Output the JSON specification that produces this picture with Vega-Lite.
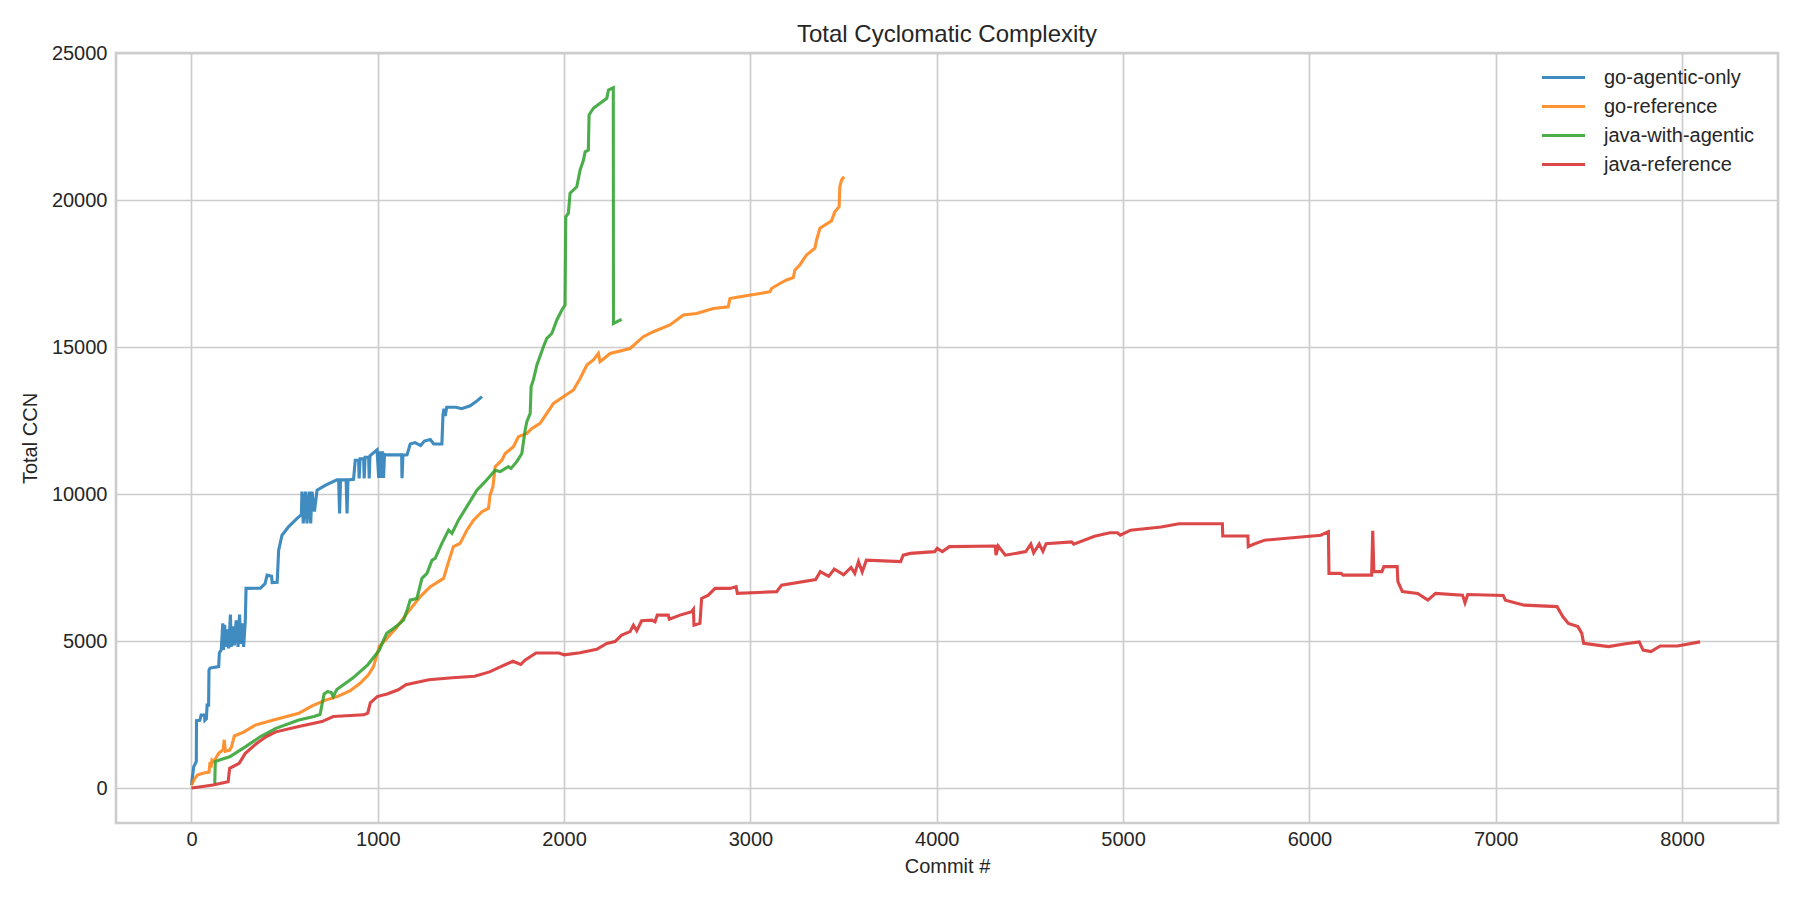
{
  "$schema": "https://vega.github.io/schema/vega-lite/v6.json",
  "width": 1662,
  "height": 770,
  "autosize": {"type": "none"},
  "padding": {"left": 116, "top": 53, "right": 22, "bottom": 77},
  "background": "white",
  "title": {
    "text": "Total Cyclomatic Complexity",
    "fontSize": 24,
    "fontWeight": "normal",
    "font": "Liberation Sans",
    "color": "#262626",
    "anchor": "middle",
    "frame": "group",
    "offset": -4
  },
  "data": {
    "values": [
      {"s": "go-agentic-only", "x": 0, "y": 100}, {"s": "go-agentic-only", "x": 12, "y": 720}, {"s": "go-agentic-only", "x": 26, "y": 900}, {"s": "go-agentic-only", "x": 27, "y": 2290},
      {"s": "go-agentic-only", "x": 45, "y": 2300}, {"s": "go-agentic-only", "x": 52, "y": 2480}, {"s": "go-agentic-only", "x": 70, "y": 2480}, {"s": "go-agentic-only", "x": 72, "y": 2300},
      {"s": "go-agentic-only", "x": 80, "y": 2350}, {"s": "go-agentic-only", "x": 84, "y": 2820}, {"s": "go-agentic-only", "x": 92, "y": 2820}, {"s": "go-agentic-only", "x": 94, "y": 4010},
      {"s": "go-agentic-only", "x": 100, "y": 4080}, {"s": "go-agentic-only", "x": 146, "y": 4130}, {"s": "go-agentic-only", "x": 150, "y": 4600}, {"s": "go-agentic-only", "x": 160, "y": 4700},
      {"s": "go-agentic-only", "x": 168, "y": 5600}, {"s": "go-agentic-only", "x": 172, "y": 4700}, {"s": "go-agentic-only", "x": 178, "y": 5550}, {"s": "go-agentic-only", "x": 185, "y": 4800},
      {"s": "go-agentic-only", "x": 195, "y": 5400}, {"s": "go-agentic-only", "x": 200, "y": 4750}, {"s": "go-agentic-only", "x": 209, "y": 5900}, {"s": "go-agentic-only", "x": 214, "y": 4800},
      {"s": "go-agentic-only", "x": 222, "y": 5500}, {"s": "go-agentic-only", "x": 230, "y": 4850}, {"s": "go-agentic-only", "x": 240, "y": 5700}, {"s": "go-agentic-only", "x": 250, "y": 4800},
      {"s": "go-agentic-only", "x": 258, "y": 5900}, {"s": "go-agentic-only", "x": 265, "y": 4900}, {"s": "go-agentic-only", "x": 272, "y": 5600}, {"s": "go-agentic-only", "x": 280, "y": 4800},
      {"s": "go-agentic-only", "x": 289, "y": 5700}, {"s": "go-agentic-only", "x": 293, "y": 6790}, {"s": "go-agentic-only", "x": 370, "y": 6800}, {"s": "go-agentic-only", "x": 395, "y": 6950},
      {"s": "go-agentic-only", "x": 406, "y": 7240}, {"s": "go-agentic-only", "x": 430, "y": 7200}, {"s": "go-agentic-only", "x": 433, "y": 6990}, {"s": "go-agentic-only", "x": 460, "y": 7000},
      {"s": "go-agentic-only", "x": 468, "y": 8090}, {"s": "go-agentic-only", "x": 486, "y": 8600}, {"s": "go-agentic-only", "x": 522, "y": 8890}, {"s": "go-agentic-only", "x": 567, "y": 9170},
      {"s": "go-agentic-only", "x": 590, "y": 9300}, {"s": "go-agentic-only", "x": 593, "y": 10080}, {"s": "go-agentic-only", "x": 600, "y": 9000}, {"s": "go-agentic-only", "x": 612, "y": 10080},
      {"s": "go-agentic-only", "x": 620, "y": 9000}, {"s": "go-agentic-only", "x": 632, "y": 10080}, {"s": "go-agentic-only", "x": 640, "y": 9000}, {"s": "go-agentic-only", "x": 647, "y": 10080},
      {"s": "go-agentic-only", "x": 660, "y": 9400}, {"s": "go-agentic-only", "x": 674, "y": 10130}, {"s": "go-agentic-only", "x": 720, "y": 10300}, {"s": "go-agentic-only", "x": 781, "y": 10480},
      {"s": "go-agentic-only", "x": 790, "y": 10480}, {"s": "go-agentic-only", "x": 795, "y": 9340}, {"s": "go-agentic-only", "x": 800, "y": 10480}, {"s": "go-agentic-only", "x": 830, "y": 10480},
      {"s": "go-agentic-only", "x": 835, "y": 9340}, {"s": "go-agentic-only", "x": 840, "y": 10480}, {"s": "go-agentic-only", "x": 870, "y": 10500}, {"s": "go-agentic-only", "x": 879, "y": 11150},
      {"s": "go-agentic-only", "x": 897, "y": 11150}, {"s": "go-agentic-only", "x": 900, "y": 10530}, {"s": "go-agentic-only", "x": 905, "y": 11200}, {"s": "go-agentic-only", "x": 924, "y": 11200},
      {"s": "go-agentic-only", "x": 927, "y": 10530}, {"s": "go-agentic-only", "x": 932, "y": 11250}, {"s": "go-agentic-only", "x": 951, "y": 11250}, {"s": "go-agentic-only", "x": 954, "y": 10530},
      {"s": "go-agentic-only", "x": 958, "y": 11300}, {"s": "go-agentic-only", "x": 996, "y": 11500}, {"s": "go-agentic-only", "x": 1005, "y": 10550}, {"s": "go-agentic-only", "x": 1010, "y": 11450},
      {"s": "go-agentic-only", "x": 1020, "y": 10550}, {"s": "go-agentic-only", "x": 1025, "y": 11450}, {"s": "go-agentic-only", "x": 1031, "y": 10550}, {"s": "go-agentic-only", "x": 1036, "y": 11350},
      {"s": "go-agentic-only", "x": 1050, "y": 11330}, {"s": "go-agentic-only", "x": 1128, "y": 11330}, {"s": "go-agentic-only", "x": 1130, "y": 10540}, {"s": "go-agentic-only", "x": 1135, "y": 11320},
      {"s": "go-agentic-only", "x": 1157, "y": 11330}, {"s": "go-agentic-only", "x": 1174, "y": 11700}, {"s": "go-agentic-only", "x": 1200, "y": 11750}, {"s": "go-agentic-only", "x": 1230, "y": 11650},
      {"s": "go-agentic-only", "x": 1250, "y": 11800}, {"s": "go-agentic-only", "x": 1282, "y": 11850}, {"s": "go-agentic-only", "x": 1300, "y": 11700}, {"s": "go-agentic-only", "x": 1344, "y": 11700},
      {"s": "go-agentic-only", "x": 1350, "y": 12700}, {"s": "go-agentic-only", "x": 1355, "y": 12900}, {"s": "go-agentic-only", "x": 1362, "y": 12650}, {"s": "go-agentic-only", "x": 1370, "y": 12950},
      {"s": "go-agentic-only", "x": 1420, "y": 12950}, {"s": "go-agentic-only", "x": 1450, "y": 12900}, {"s": "go-agentic-only", "x": 1496, "y": 13000}, {"s": "go-agentic-only", "x": 1530, "y": 13150},
      {"s": "go-agentic-only", "x": 1559, "y": 13310},

      {"s": "go-reference", "x": 0, "y": 100}, {"s": "go-reference", "x": 15, "y": 300}, {"s": "go-reference", "x": 32, "y": 440}, {"s": "go-reference", "x": 60, "y": 500},
      {"s": "go-reference", "x": 94, "y": 540}, {"s": "go-reference", "x": 100, "y": 890}, {"s": "go-reference", "x": 105, "y": 700}, {"s": "go-reference", "x": 110, "y": 950},
      {"s": "go-reference", "x": 120, "y": 900}, {"s": "go-reference", "x": 146, "y": 1180}, {"s": "go-reference", "x": 170, "y": 1300}, {"s": "go-reference", "x": 176, "y": 1640},
      {"s": "go-reference", "x": 182, "y": 1250}, {"s": "go-reference", "x": 205, "y": 1290}, {"s": "go-reference", "x": 215, "y": 1400}, {"s": "go-reference", "x": 230, "y": 1770},
      {"s": "go-reference", "x": 280, "y": 1900}, {"s": "go-reference", "x": 342, "y": 2140}, {"s": "go-reference", "x": 450, "y": 2330}, {"s": "go-reference", "x": 576, "y": 2540},
      {"s": "go-reference", "x": 650, "y": 2800}, {"s": "go-reference", "x": 720, "y": 2990}, {"s": "go-reference", "x": 782, "y": 3110}, {"s": "go-reference", "x": 850, "y": 3300},
      {"s": "go-reference", "x": 905, "y": 3560}, {"s": "go-reference", "x": 950, "y": 3850}, {"s": "go-reference", "x": 977, "y": 4130}, {"s": "go-reference", "x": 1008, "y": 4810},
      {"s": "go-reference", "x": 1040, "y": 5030}, {"s": "go-reference", "x": 1100, "y": 5450}, {"s": "go-reference", "x": 1157, "y": 5940}, {"s": "go-reference", "x": 1228, "y": 6510},
      {"s": "go-reference", "x": 1282, "y": 6850}, {"s": "go-reference", "x": 1353, "y": 7130}, {"s": "go-reference", "x": 1380, "y": 7700}, {"s": "go-reference", "x": 1406, "y": 8210},
      {"s": "go-reference", "x": 1442, "y": 8320}, {"s": "go-reference", "x": 1478, "y": 8770}, {"s": "go-reference", "x": 1514, "y": 9110}, {"s": "go-reference", "x": 1559, "y": 9400},
      {"s": "go-reference", "x": 1594, "y": 9510}, {"s": "go-reference", "x": 1603, "y": 9970}, {"s": "go-reference", "x": 1618, "y": 10250}, {"s": "go-reference", "x": 1630, "y": 10930},
      {"s": "go-reference", "x": 1666, "y": 11150}, {"s": "go-reference", "x": 1684, "y": 11380}, {"s": "go-reference", "x": 1728, "y": 11610}, {"s": "go-reference", "x": 1755, "y": 11950},
      {"s": "go-reference", "x": 1800, "y": 12060}, {"s": "go-reference", "x": 1827, "y": 12230}, {"s": "go-reference", "x": 1871, "y": 12400}, {"s": "go-reference", "x": 1925, "y": 12910},
      {"s": "go-reference", "x": 1943, "y": 13080}, {"s": "go-reference", "x": 1996, "y": 13310}, {"s": "go-reference", "x": 2050, "y": 13540}, {"s": "go-reference", "x": 2086, "y": 13930},
      {"s": "go-reference", "x": 2122, "y": 14390}, {"s": "go-reference", "x": 2157, "y": 14560}, {"s": "go-reference", "x": 2184, "y": 14780}, {"s": "go-reference", "x": 2193, "y": 14500},
      {"s": "go-reference", "x": 2247, "y": 14780}, {"s": "go-reference", "x": 2354, "y": 14950}, {"s": "go-reference", "x": 2425, "y": 15350}, {"s": "go-reference", "x": 2479, "y": 15520},
      {"s": "go-reference", "x": 2568, "y": 15750}, {"s": "go-reference", "x": 2640, "y": 16090}, {"s": "go-reference", "x": 2711, "y": 16140}, {"s": "go-reference", "x": 2801, "y": 16310},
      {"s": "go-reference", "x": 2881, "y": 16370}, {"s": "go-reference", "x": 2890, "y": 16650}, {"s": "go-reference", "x": 2944, "y": 16710}, {"s": "go-reference", "x": 3051, "y": 16820},
      {"s": "go-reference", "x": 3105, "y": 16880}, {"s": "go-reference", "x": 3113, "y": 16990}, {"s": "go-reference", "x": 3158, "y": 17160}, {"s": "go-reference", "x": 3194, "y": 17280},
      {"s": "go-reference", "x": 3230, "y": 17360}, {"s": "go-reference", "x": 3239, "y": 17620}, {"s": "go-reference", "x": 3265, "y": 17790}, {"s": "go-reference", "x": 3301, "y": 18130},
      {"s": "go-reference", "x": 3346, "y": 18360}, {"s": "go-reference", "x": 3355, "y": 18640}, {"s": "go-reference", "x": 3373, "y": 19040}, {"s": "go-reference", "x": 3400, "y": 19150},
      {"s": "go-reference", "x": 3435, "y": 19290}, {"s": "go-reference", "x": 3453, "y": 19600}, {"s": "go-reference", "x": 3476, "y": 19770}, {"s": "go-reference", "x": 3480, "y": 20450},
      {"s": "go-reference", "x": 3489, "y": 20680}, {"s": "go-reference", "x": 3503, "y": 20790},

      {"s": "java-with-agentic", "x": 125, "y": 150}, {"s": "java-with-agentic", "x": 128, "y": 900}, {"s": "java-with-agentic", "x": 150, "y": 950}, {"s": "java-with-agentic", "x": 205, "y": 1060},
      {"s": "java-with-agentic", "x": 289, "y": 1400}, {"s": "java-with-agentic", "x": 371, "y": 1750}, {"s": "java-with-agentic", "x": 453, "y": 2030}, {"s": "java-with-agentic", "x": 576, "y": 2310},
      {"s": "java-with-agentic", "x": 658, "y": 2430}, {"s": "java-with-agentic", "x": 690, "y": 2500}, {"s": "java-with-agentic", "x": 712, "y": 3200}, {"s": "java-with-agentic", "x": 730, "y": 3280},
      {"s": "java-with-agentic", "x": 750, "y": 3250}, {"s": "java-with-agentic", "x": 761, "y": 3110}, {"s": "java-with-agentic", "x": 780, "y": 3350}, {"s": "java-with-agentic", "x": 864, "y": 3730},
      {"s": "java-with-agentic", "x": 946, "y": 4190}, {"s": "java-with-agentic", "x": 1008, "y": 4690}, {"s": "java-with-agentic", "x": 1031, "y": 5030}, {"s": "java-with-agentic", "x": 1048, "y": 5260},
      {"s": "java-with-agentic", "x": 1100, "y": 5500}, {"s": "java-with-agentic", "x": 1138, "y": 5710}, {"s": "java-with-agentic", "x": 1160, "y": 6100}, {"s": "java-with-agentic", "x": 1174, "y": 6390},
      {"s": "java-with-agentic", "x": 1210, "y": 6450}, {"s": "java-with-agentic", "x": 1237, "y": 7130}, {"s": "java-with-agentic", "x": 1264, "y": 7300}, {"s": "java-with-agentic", "x": 1291, "y": 7750},
      {"s": "java-with-agentic", "x": 1308, "y": 7810}, {"s": "java-with-agentic", "x": 1344, "y": 8320}, {"s": "java-with-agentic", "x": 1380, "y": 8770}, {"s": "java-with-agentic", "x": 1398, "y": 8660},
      {"s": "java-with-agentic", "x": 1433, "y": 9110}, {"s": "java-with-agentic", "x": 1478, "y": 9570}, {"s": "java-with-agentic", "x": 1532, "y": 10130}, {"s": "java-with-agentic", "x": 1576, "y": 10420},
      {"s": "java-with-agentic", "x": 1630, "y": 10810}, {"s": "java-with-agentic", "x": 1657, "y": 10760}, {"s": "java-with-agentic", "x": 1701, "y": 10930}, {"s": "java-with-agentic", "x": 1715, "y": 10870},
      {"s": "java-with-agentic", "x": 1746, "y": 11100}, {"s": "java-with-agentic", "x": 1773, "y": 11380}, {"s": "java-with-agentic", "x": 1791, "y": 12180}, {"s": "java-with-agentic", "x": 1800, "y": 12460},
      {"s": "java-with-agentic", "x": 1818, "y": 12740}, {"s": "java-with-agentic", "x": 1823, "y": 13650}, {"s": "java-with-agentic", "x": 1835, "y": 13880}, {"s": "java-with-agentic", "x": 1854, "y": 14390},
      {"s": "java-with-agentic", "x": 1889, "y": 15010}, {"s": "java-with-agentic", "x": 1907, "y": 15290}, {"s": "java-with-agentic", "x": 1934, "y": 15460}, {"s": "java-with-agentic", "x": 1961, "y": 15920},
      {"s": "java-with-agentic", "x": 1988, "y": 16260}, {"s": "java-with-agentic", "x": 2005, "y": 16430}, {"s": "java-with-agentic", "x": 2009, "y": 19430}, {"s": "java-with-agentic", "x": 2023, "y": 19550},
      {"s": "java-with-agentic", "x": 2032, "y": 20230}, {"s": "java-with-agentic", "x": 2068, "y": 20450}, {"s": "java-with-agentic", "x": 2086, "y": 21020}, {"s": "java-with-agentic", "x": 2104, "y": 21360},
      {"s": "java-with-agentic", "x": 2113, "y": 21640}, {"s": "java-with-agentic", "x": 2130, "y": 21700}, {"s": "java-with-agentic", "x": 2134, "y": 22890}, {"s": "java-with-agentic", "x": 2157, "y": 23120},
      {"s": "java-with-agentic", "x": 2229, "y": 23460}, {"s": "java-with-agentic", "x": 2238, "y": 23740}, {"s": "java-with-agentic", "x": 2264, "y": 23820}, {"s": "java-with-agentic", "x": 2265, "y": 15800},
      {"s": "java-with-agentic", "x": 2309, "y": 15940},

      {"s": "java-reference", "x": 0, "y": 0}, {"s": "java-reference", "x": 60, "y": 50}, {"s": "java-reference", "x": 115, "y": 100}, {"s": "java-reference", "x": 197, "y": 210},
      {"s": "java-reference", "x": 200, "y": 400}, {"s": "java-reference", "x": 205, "y": 670}, {"s": "java-reference", "x": 256, "y": 840}, {"s": "java-reference", "x": 289, "y": 1180},
      {"s": "java-reference", "x": 351, "y": 1520}, {"s": "java-reference", "x": 402, "y": 1750}, {"s": "java-reference", "x": 453, "y": 1910}, {"s": "java-reference", "x": 576, "y": 2090},
      {"s": "java-reference", "x": 700, "y": 2260}, {"s": "java-reference", "x": 761, "y": 2430}, {"s": "java-reference", "x": 925, "y": 2490}, {"s": "java-reference", "x": 946, "y": 2550},
      {"s": "java-reference", "x": 960, "y": 2900}, {"s": "java-reference", "x": 997, "y": 3110}, {"s": "java-reference", "x": 1050, "y": 3200}, {"s": "java-reference", "x": 1110, "y": 3340},
      {"s": "java-reference", "x": 1151, "y": 3510}, {"s": "java-reference", "x": 1274, "y": 3680}, {"s": "java-reference", "x": 1400, "y": 3750}, {"s": "java-reference", "x": 1520, "y": 3800},
      {"s": "java-reference", "x": 1600, "y": 3950}, {"s": "java-reference", "x": 1643, "y": 4080}, {"s": "java-reference", "x": 1725, "y": 4310}, {"s": "java-reference", "x": 1767, "y": 4200},
      {"s": "java-reference", "x": 1790, "y": 4350}, {"s": "java-reference", "x": 1849, "y": 4590}, {"s": "java-reference", "x": 1972, "y": 4590}, {"s": "java-reference", "x": 2000, "y": 4530},
      {"s": "java-reference", "x": 2086, "y": 4600}, {"s": "java-reference", "x": 2175, "y": 4720}, {"s": "java-reference", "x": 2229, "y": 4920}, {"s": "java-reference", "x": 2273, "y": 4980},
      {"s": "java-reference", "x": 2309, "y": 5200}, {"s": "java-reference", "x": 2354, "y": 5320}, {"s": "java-reference", "x": 2372, "y": 5540}, {"s": "java-reference", "x": 2390, "y": 5350},
      {"s": "java-reference", "x": 2416, "y": 5690}, {"s": "java-reference", "x": 2470, "y": 5710}, {"s": "java-reference", "x": 2488, "y": 5650}, {"s": "java-reference", "x": 2500, "y": 5880},
      {"s": "java-reference", "x": 2559, "y": 5880}, {"s": "java-reference", "x": 2565, "y": 5740}, {"s": "java-reference", "x": 2622, "y": 5880}, {"s": "java-reference", "x": 2685, "y": 6000},
      {"s": "java-reference", "x": 2694, "y": 6080}, {"s": "java-reference", "x": 2697, "y": 5540}, {"s": "java-reference", "x": 2729, "y": 5600}, {"s": "java-reference", "x": 2738, "y": 6450},
      {"s": "java-reference", "x": 2774, "y": 6560}, {"s": "java-reference", "x": 2810, "y": 6790}, {"s": "java-reference", "x": 2890, "y": 6790}, {"s": "java-reference", "x": 2923, "y": 6850},
      {"s": "java-reference", "x": 2930, "y": 6620}, {"s": "java-reference", "x": 3141, "y": 6680}, {"s": "java-reference", "x": 3167, "y": 6900}, {"s": "java-reference", "x": 3350, "y": 7090},
      {"s": "java-reference", "x": 3375, "y": 7360}, {"s": "java-reference", "x": 3420, "y": 7200}, {"s": "java-reference", "x": 3450, "y": 7450}, {"s": "java-reference", "x": 3500, "y": 7250},
      {"s": "java-reference", "x": 3540, "y": 7500}, {"s": "java-reference", "x": 3560, "y": 7300}, {"s": "java-reference", "x": 3580, "y": 7700}, {"s": "java-reference", "x": 3600, "y": 7350},
      {"s": "java-reference", "x": 3622, "y": 7750}, {"s": "java-reference", "x": 3806, "y": 7700}, {"s": "java-reference", "x": 3820, "y": 7920}, {"s": "java-reference", "x": 3858, "y": 7980},
      {"s": "java-reference", "x": 3989, "y": 8040}, {"s": "java-reference", "x": 4002, "y": 8150}, {"s": "java-reference", "x": 4030, "y": 8040}, {"s": "java-reference", "x": 4068, "y": 8210},
      {"s": "java-reference", "x": 4314, "y": 8230}, {"s": "java-reference", "x": 4318, "y": 7920}, {"s": "java-reference", "x": 4330, "y": 8230}, {"s": "java-reference", "x": 4368, "y": 7920},
      {"s": "java-reference", "x": 4478, "y": 8040}, {"s": "java-reference", "x": 4505, "y": 8300}, {"s": "java-reference", "x": 4520, "y": 8000}, {"s": "java-reference", "x": 4550, "y": 8300},
      {"s": "java-reference", "x": 4570, "y": 8050}, {"s": "java-reference", "x": 4587, "y": 8310}, {"s": "java-reference", "x": 4724, "y": 8370}, {"s": "java-reference", "x": 4735, "y": 8290},
      {"s": "java-reference", "x": 4847, "y": 8560}, {"s": "java-reference", "x": 4929, "y": 8680}, {"s": "java-reference", "x": 4970, "y": 8680}, {"s": "java-reference", "x": 4985, "y": 8600},
      {"s": "java-reference", "x": 5040, "y": 8770}, {"s": "java-reference", "x": 5204, "y": 8880}, {"s": "java-reference", "x": 5300, "y": 8990}, {"s": "java-reference", "x": 5533, "y": 8990},
      {"s": "java-reference", "x": 5535, "y": 8570}, {"s": "java-reference", "x": 5670, "y": 8570}, {"s": "java-reference", "x": 5672, "y": 8210}, {"s": "java-reference", "x": 5700, "y": 8290},
      {"s": "java-reference", "x": 5760, "y": 8430}, {"s": "java-reference", "x": 6061, "y": 8600}, {"s": "java-reference", "x": 6102, "y": 8720}, {"s": "java-reference", "x": 6105, "y": 7300},
      {"s": "java-reference", "x": 6170, "y": 7300}, {"s": "java-reference", "x": 6180, "y": 7240}, {"s": "java-reference", "x": 6334, "y": 7240}, {"s": "java-reference", "x": 6340, "y": 8750},
      {"s": "java-reference", "x": 6346, "y": 7360}, {"s": "java-reference", "x": 6389, "y": 7360}, {"s": "java-reference", "x": 6400, "y": 7530}, {"s": "java-reference", "x": 6471, "y": 7530},
      {"s": "java-reference", "x": 6475, "y": 7020}, {"s": "java-reference", "x": 6499, "y": 6680}, {"s": "java-reference", "x": 6581, "y": 6620}, {"s": "java-reference", "x": 6636, "y": 6390},
      {"s": "java-reference", "x": 6677, "y": 6620}, {"s": "java-reference", "x": 6822, "y": 6560}, {"s": "java-reference", "x": 6835, "y": 6300}, {"s": "java-reference", "x": 6850, "y": 6580},
      {"s": "java-reference", "x": 7040, "y": 6550}, {"s": "java-reference", "x": 7052, "y": 6390}, {"s": "java-reference", "x": 7153, "y": 6220}, {"s": "java-reference", "x": 7329, "y": 6170},
      {"s": "java-reference", "x": 7360, "y": 5830}, {"s": "java-reference", "x": 7390, "y": 5600}, {"s": "java-reference", "x": 7441, "y": 5490}, {"s": "java-reference", "x": 7462, "y": 5260},
      {"s": "java-reference", "x": 7472, "y": 4920}, {"s": "java-reference", "x": 7544, "y": 4860}, {"s": "java-reference", "x": 7606, "y": 4810}, {"s": "java-reference", "x": 7688, "y": 4900},
      {"s": "java-reference", "x": 7770, "y": 4970}, {"s": "java-reference", "x": 7791, "y": 4690}, {"s": "java-reference", "x": 7833, "y": 4640}, {"s": "java-reference", "x": 7883, "y": 4830},
      {"s": "java-reference", "x": 7975, "y": 4830}, {"s": "java-reference", "x": 8097, "y": 4970}
    ]
  },
  "mark": {"type": "line", "strokeWidth": 3.1, "opacity": 0.85},
  "encoding": {
    "x": {
      "field": "x",
      "type": "quantitative",
      "title": "Commit #",
      "scale": {"domain": [-405, 8515], "nice": false, "zero": false},
      "axis": {"values": [0, 1000, 2000, 3000, 4000, 5000, 6000, 7000, 8000], "format": "d"}
    },
    "y": {
      "field": "y",
      "type": "quantitative",
      "title": "Total CCN",
      "scale": {"domain": [-1190, 25000], "nice": false, "zero": false},
      "axis": {"values": [0, 5000, 10000, 15000, 20000, 25000], "format": "d"}
    },
    "color": {
      "field": "s",
      "type": "nominal",
      "scale": {
        "domain": ["go-agentic-only", "go-reference", "java-with-agentic", "java-reference"],
        "range": ["#1f77b4", "#ff7f0e", "#2ca02c", "#d62728"]
      },
      "legend": {
        "title": null,
        "orient": "none",
        "legendX": 1424,
        "legendY": 10,
        "symbolType": "stroke",
        "symbolSize": 1849,
        "symbolStrokeWidth": 3.1,
        "symbolOpacity": 0.85,
        "labelFont": "Liberation Sans",
        "labelFontSize": 20,
        "labelColor": "#262626",
        "labelOffset": 17,
        "clipHeight": 29,
        "rowPadding": 0
      }
    }
  },
  "config": {
    "view": {"stroke": "#cccccc", "strokeWidth": 2.6},
    "axis": {
      "domain": false,
      "ticks": false,
      "grid": true,
      "gridColor": "#cccccc",
      "gridWidth": 1.67,
      "labelFont": "Liberation Sans",
      "labelFontSize": 20,
      "labelColor": "#262626",
      "titleFont": "Liberation Sans",
      "titleFontSize": 20,
      "titleFontWeight": "normal",
      "titleColor": "#262626"
    },
    "axisX": {"labelPadding": 6, "titlePadding": 7},
    "axisY": {"labelPadding": 9, "titlePadding": 11}
  }
}
